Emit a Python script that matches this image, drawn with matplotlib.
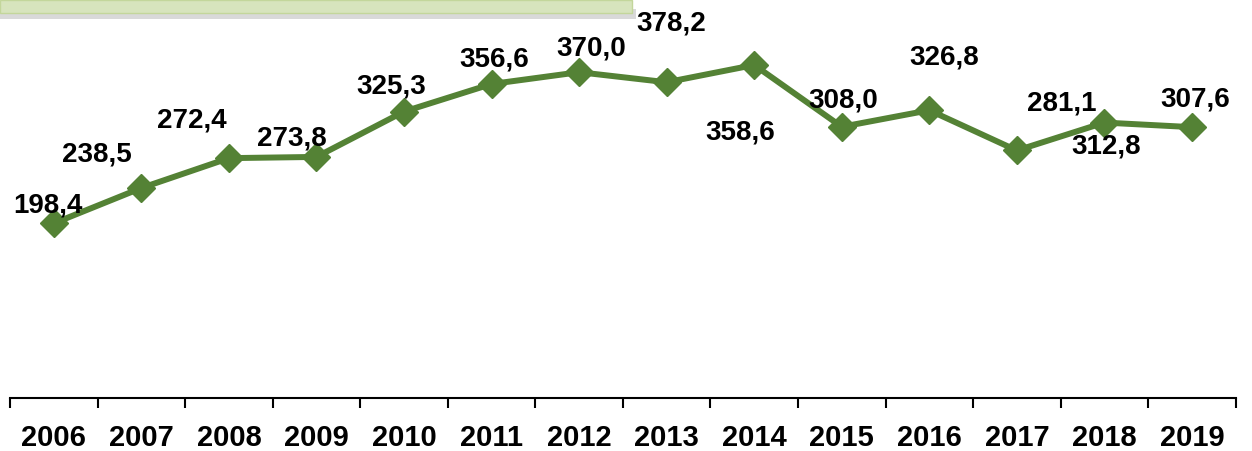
import matplotlib.pyplot as plt
from matplotlib.patches import Rectangle

years = ["2006", "2007", "2008", "2009", "2010", "2011", "2012",
         "2013", "2014", "2015", "2016", "2017", "2018", "2019"]
values = [198.4, 238.5, 272.4, 273.8, 325.3, 356.6, 370.0,
          358.6, 378.2, 308.0, 326.8, 281.1, 312.8, 307.6]
# where each value's text sits relative to its own marker (points)
label_offsets = [(-4, 13), (-32, 24), (-27, 27), (-18, 13), (-9, 18), (2, 18), (9, 17),
                 (53, -36), (-60, 30), (1, 19), (11, 38), (32, 34), (1, -17), (2, 20)]

plt.rcParams['font.family'] = ['Liberation Sans', 'DejaVu Sans']

fig = plt.figure(figsize=(12.52, 4.51), dpi=100)
ax = fig.add_axes([0.008, 0.1175, 0.979, 0.8825])

x = list(range(len(years)))
ax.plot(x, values, color="#548235", linewidth=4.3, marker="D", markersize=14,
        markerfacecolor="#548235", markeredgecolor="#548235")

for i, v in enumerate(values):
    dx, dy = label_offsets[i]
    ax.annotate(f"{v:.1f}".replace(".", ","), (x[i], v), xytext=(dx, dy),
                textcoords="offset points", ha="center", va="center",
                fontsize=20, fontweight="bold", color="black")

ax.set_xlim(-0.5, len(years) - 0.5)
ax.set_ylim(0, 452)
ax.set_xticks(x)
ax.set_xticklabels(years, fontsize=21, fontweight="bold")
ax.set_xticks([i - 0.5 for i in range(len(years) + 1)], minor=True)
ax.tick_params(axis="x", which="major", length=0, pad=19)
ax.tick_params(axis="x", which="minor", length=7, width=1.5, direction="out")
ax.set_yticks([])
for s in ["left", "right", "top"]:
    ax.spines[s].set_visible(False)
ax.spines["bottom"].set_linewidth(1.5)
ax.patch.set_alpha(0)

# title box cut off at the top
fig.patches.append(Rectangle((0, 1 - 19 / 451), 636 / 1252, 10 / 451, transform=fig.transFigure,
                             facecolor="#d9d9d9", edgecolor="none", zorder=0))
fig.patches.append(Rectangle((0, 1 - 13 / 451), 632 / 1252, 13 / 451, transform=fig.transFigure,
                             facecolor="#d7e4bd", edgecolor="#c3d69b", linewidth=1, zorder=1))

fig.savefig("out.png", dpi=100)
